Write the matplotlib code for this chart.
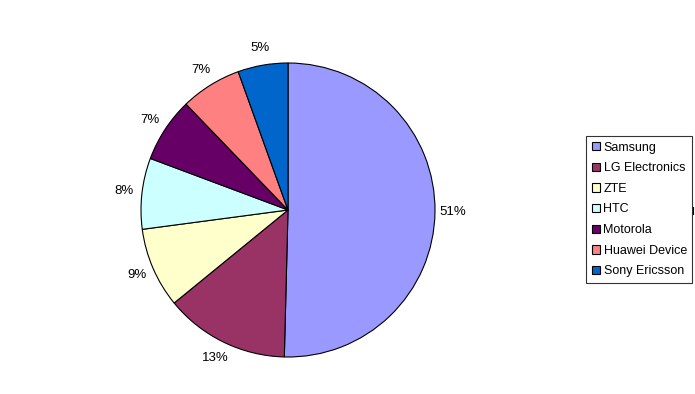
import matplotlib.pyplot as plt
from matplotlib.lines import Line2D

plt.rcParams['font.family'] = ['Liberation Sans', 'DejaVu Sans']

brands = ["Samsung", "LG Electronics", "ZTE", "HTC", "Motorola", "Huawei Device", "Sony Ericsson"]
# wedge sizes as measured from the slice angles; labels as printed on the chart
share = [50.4, 13.7, 8.8, 7.8, 7.1, 6.7, 5.5]
pct_labels = ["51%", "13%", "9%", "8%", "7%", "7%", "5%"]
colors = ["#9999FF", "#993366", "#FFFFCC", "#CCFFFF", "#660066", "#FF8080", "#0066CC"]

W, H = 695, 394
fig = plt.figure(figsize=(W / 100, H / 100), dpi=100)
# pie box in pixels: x 141..435, y 63..357
ax = fig.add_axes([141 / W, (H - 357) / H, 294 / W, 294 / H])

wedges, texts = ax.pie(
    share, labels=pct_labels, colors=colors, startangle=90, counterclock=False,
    labeldistance=1.12, normalize=True,
    wedgeprops=dict(edgecolor="black", linewidth=0.8),
    textprops=dict(fontsize=9.5, color="black"),
)
for t in texts:
    t.set_ha("center")
    t.set_va("center")
ax.set_xlim(-1, 1)
ax.set_ylim(-1, 1)
ax.set_aspect("equal")
ax.axis("off")
for w in wedges:
    w.set_clip_on(False)

leg = fig.legend(
    wedges, brands, loc="upper left",
    bbox_to_anchor=(586 / W, 1 - 136 / H),
    fontsize=9, frameon=True, fancybox=False, edgecolor="black",
    handlelength=0.65, handleheight=0.65, handletextpad=0.3,
    labelspacing=0.69, borderpad=0.45, borderaxespad=0,
)
leg.get_frame().set_linewidth(0.8)

fig.add_artist(Line2D([693 / W, 693 / W], [1 - 207 / H, 1 - 214 / H], color="black", linewidth=0.8))

fig.savefig("out.png", dpi=100)
